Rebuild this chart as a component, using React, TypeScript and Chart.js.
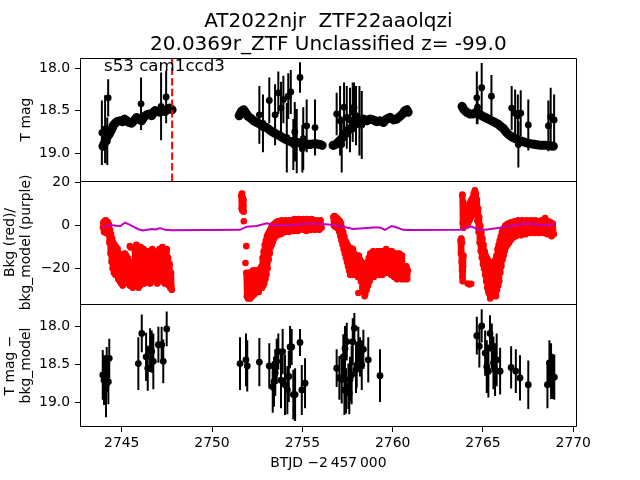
import React, { useEffect, useRef } from 'react';
import { Chart, registerables } from 'chart.js';

Chart.register(...registerables);

// ---------- text ----------
const TITLE_LINES = ['AT2022njr  ZTF22aaolqzi', '20.0369r_ZTF Unclassified z= -99.0'];
const ANNOT_TEXT = 's53 cam1ccd3';
const ANNOT_T = 2744.02;
const ANNOT_M = 18.03;
const X_TITLE = 'BTJD \u22122\u2009457\u2009000';
const Y1_TITLE = 'T mag';
const Y2_TITLE = ['Bkg (red)/', 'bkg_model (purple)'];
const Y3_TITLE = ['T mag \u2212', 'bkg_model'];

// ---------- axes ----------
const X_MIN = 2742.69;
const X_MAX = 2770.19;
const X_TICKS = [2745, 2750, 2755, 2760, 2765, 2770];
const Y1_MIN = 17.88;
const Y1_MAX = 19.33;
const Y1_TICKS = [18.0, 18.5, 19.0];
const Y2_MIN = -36.6;
const Y2_MAX = 20.8;
const Y2_TICKS = [-20, 0, 20];
const Y3_MIN = 17.70;
const Y3_MAX = 19.33;
const Y3_TICKS = [18.0, 18.5, 19.0];

const VLINE_T = 2747.79;

// ---------- panel 1: dense light-curve band (null = gap) ----------
const BAND: ([number, number] | null)[] = [
  [2743.96, 18.92], [2744.05, 18.88], [2744.17, 18.82], [2744.30, 18.78], [2744.45, 18.72],
  [2744.55, 18.67], [2744.63, 18.65], [2744.75, 18.63], [2744.91, 18.62], [2745.05, 18.63],
  [2745.15, 18.60], [2745.28, 18.62], [2745.40, 18.64], [2745.55, 18.65], [2745.68, 18.62],
  [2745.83, 18.58], [2745.95, 18.60], [2746.11, 18.62], [2746.25, 18.57], [2746.38, 18.55],
  [2746.52, 18.54], [2746.66, 18.56], [2746.76, 18.52], [2746.84, 18.50], [2746.98, 18.51],
  [2747.12, 18.52], [2747.26, 18.50], [2747.40, 18.51], [2747.55, 18.48], [2747.67, 18.47],
  [2747.79, 18.49],
  null,
  [2751.50, 18.56], [2751.62, 18.51], [2751.75, 18.49], [2751.88, 18.53], [2752.00, 18.57],
  [2752.15, 18.59], [2752.30, 18.62], [2752.48, 18.64], [2752.65, 18.66], [2752.85, 18.69],
  [2753.03, 18.70], [2753.25, 18.74], [2753.50, 18.77], [2753.77, 18.80], [2754.00, 18.83],
  [2754.25, 18.86], [2754.50, 18.87], [2754.80, 18.88], [2755.10, 18.89], [2755.40, 18.90],
  [2755.70, 18.89], [2755.98, 18.90], [2756.10, 18.91],
  null,
  [2756.70, 18.91], [2756.85, 18.90], [2757.00, 18.87], [2757.18, 18.83], [2757.36, 18.78],
  [2757.55, 18.73], [2757.73, 18.70], [2757.92, 18.66], [2758.10, 18.64], [2758.25, 18.61],
  [2758.40, 18.60], [2758.57, 18.62], [2758.75, 18.60], [2758.93, 18.61], [2759.12, 18.63],
  [2759.30, 18.62], [2759.49, 18.64], [2759.66, 18.60], [2759.86, 18.58], [2760.05, 18.61],
  [2760.23, 18.60], [2760.40, 18.57], [2760.55, 18.54], [2760.68, 18.50], [2760.78, 18.49],
  [2760.86, 18.52],
  null,
  [2763.84, 18.45], [2763.95, 18.49], [2764.10, 18.52], [2764.28, 18.54], [2764.47, 18.54],
  [2764.62, 18.52], [2764.74, 18.53], [2764.93, 18.56], [2765.12, 18.58], [2765.30, 18.60],
  [2765.49, 18.62], [2765.67, 18.64], [2765.85, 18.66], [2766.00, 18.69], [2766.13, 18.71],
  [2766.27, 18.75], [2766.41, 18.78], [2766.60, 18.81], [2766.78, 18.83], [2766.97, 18.85],
  [2767.15, 18.86], [2767.40, 18.88], [2767.61, 18.89], [2767.90, 18.90], [2768.20, 18.91],
  [2768.50, 18.91], [2768.90, 18.92],
];

// ---------- panel 1: points with error bars [t, mag, err] ----------
const P1_POINTS: [number, number, number][] = [
  [2743.90, 18.76, 0.38], [2744.08, 18.72, 0.40], [2744.20, 18.86, 0.28], [2744.25, 18.35, 0.22],
  [2746.07, 18.42, 0.31], [2747.18, 18.45, 0.40], [2747.46, 18.34, 0.31],
  [2752.62, 18.55, 0.34], [2752.82, 18.65, 0.34], [2753.17, 18.38, 0.27], [2753.49, 18.55, 0.36],
  [2753.67, 18.29, 0.25], [2753.82, 18.47, 0.31], [2753.95, 18.37, 0.28], [2754.14, 18.82, 0.41],
  [2754.22, 18.33, 0.27], [2754.36, 18.28, 0.26], [2754.50, 18.90, 0.30], [2754.58, 18.75, 0.35],
  [2754.69, 18.86, 0.38], [2754.87, 18.11, 0.18], [2755.00, 18.95, 0.28], [2755.05, 18.83, 0.37],
  [2755.24, 18.68, 0.31], [2755.70, 18.70, 0.33],
  [2756.90, 18.54, 0.25], [2757.09, 18.62, 0.41], [2757.18, 18.90, 0.33], [2757.31, 18.46, 0.29],
  [2757.46, 18.58, 0.37], [2757.64, 18.61, 0.38], [2757.79, 18.52, 0.35], [2757.86, 18.46, 0.29],
  [2757.97, 18.56, 0.35], [2758.16, 18.62, 0.41], [2758.29, 18.67, 0.40],
  [2764.66, 18.35, 0.31], [2764.70, 18.46, 0.20], [2764.93, 18.23, 0.29], [2765.47, 18.33, 0.25],
  [2766.59, 18.47, 0.26], [2766.78, 18.53, 0.28], [2766.93, 18.56, 0.25], [2766.96, 18.90, 0.27],
  [2767.09, 18.53, 0.27], [2767.51, 18.67, 0.30], [2768.62, 18.68, 0.30], [2768.75, 18.57, 0.34],
  [2768.94, 18.61, 0.30],
];

// ---------- panel 2: background (red) [t, value]; null = break ----------
const BKG_ORBIT1: ([number, number] | null)[] = [
  [2743.96, -1], [2743.99, 1.5], [2744.02, -3], [2744.05, 2], [2744.08, -2.5], [2744.11, 2.5],
  [2744.14, -3.5], [2744.17, 2], [2744.20, -3], [2744.23, 1.5], [2744.26, -4], [2744.29, 0.5],
  [2744.32, -8], [2744.35, -2], [2744.38, -13], [2744.41, -4], [2744.44, -17], [2744.47, -6],
  [2744.50, -20], [2744.53, -8], [2744.57, -22], [2744.61, -9], [2744.65, -23], [2744.69, -10],
  [2744.73, -22], [2744.77, -11], [2744.81, -25], [2744.85, -13], [2744.89, -26], [2744.93, -15],
  [2744.97, -27], [2745.01, -16], [2745.05, -28], [2745.09, -15], [2745.13, -27], [2745.17, -13],
  [2745.21, -26], [2745.25, -14], [2745.29, -25], [2745.33, -15], [2745.37, -27], [2745.41, -17],
  [2745.45, -28], [2745.49, -18], [2745.53, -28], [2745.57, -20], [2745.61, -29], [2745.65, -17],
  [2745.69, -27], [2745.73, -12], [2745.77, -25], [2745.81, -9], [2745.85, -27], [2745.89, -10],
  [2745.93, -29], [2745.97, -12], [2746.01, -28], [2746.05, -10], [2746.09, -26], [2746.13, -12],
  [2746.17, -25], [2746.21, -11], [2746.25, -27], [2746.29, -13], [2746.33, -24], [2746.37, -12],
  [2746.41, -26], [2746.45, -14], [2746.49, -25], [2746.53, -12], [2746.57, -27], [2746.61, -13],
  [2746.65, -24], [2746.69, -11], [2746.73, -25], [2746.77, -12], [2746.81, -26], [2746.85, -14],
  [2746.89, -25], [2746.93, -15], [2746.97, -27], [2747.01, -12], [2747.05, -26], [2747.09, -11],
  [2747.13, -24], [2747.17, -13], [2747.21, -26], [2747.25, -10], [2747.29, -25], [2747.33, -12],
  [2747.37, -27], [2747.41, -14], [2747.45, -26], [2747.49, -11], [2747.53, -25], [2747.57, -15],
  [2747.61, -28], [2747.65, -18], [2747.69, -29], [2747.73, -22], [2747.77, -30],
];

const BKG_ORBIT2: ([number, number] | null)[] = [
  [2751.62, 14], [2751.64, 8], [2751.66, 15], [2751.68, 7], [2751.70, 13], [2751.72, 9],
  [2751.74, 12], [2751.75, 6.5],
  null,
  [2751.90, -22], [2751.93, -33], [2751.96, -23], [2751.99, -34], [2752.02, -22], [2752.05, -33],
  [2752.08, -24], [2752.11, -34], [2752.14, -22], [2752.17, -32], [2752.20, -23], [2752.23, -33],
  [2752.26, -21], [2752.29, -31], [2752.32, -22], [2752.35, -32], [2752.38, -21], [2752.41, -30],
  [2752.44, -22], [2752.47, -31], [2752.50, -21], [2752.53, -30], [2752.56, -22], [2752.59, -31],
  [2752.62, -21], [2752.65, -29], [2752.68, -20], [2752.71, -28], [2752.74, -19], [2752.77, -29],
  [2752.80, -15], [2752.83, -28], [2752.86, -12], [2752.89, -27], [2752.92, -9], [2752.95, -25],
  [2752.98, -7], [2753.01, -23], [2753.04, -5], [2753.07, -20], [2753.10, -4], [2753.13, -16],
  [2753.16, -3], [2753.19, -13], [2753.22, -2], [2753.25, -10], [2753.28, -1], [2753.31, -9],
  [2753.34, 0], [2753.37, -7.5], [2753.40, 0.5], [2753.44, -6], [2753.48, 1], [2753.52, -5],
  [2753.56, 1.5], [2753.60, -4.5], [2753.65, 2], [2753.70, -4], [2753.75, 2], [2753.80, -4],
  [2753.85, 2.5], [2753.90, -3.5], [2753.96, 2], [2754.02, -3], [2754.08, 2.5], [2754.14, -2.5],
  [2754.20, 2], [2754.26, -3], [2754.32, 2.5], [2754.38, -2], [2754.44, 2], [2754.50, -2.5],
  [2754.56, 3], [2754.62, -2], [2754.68, 2], [2754.74, -2.5], [2754.80, 3], [2754.86, -2],
  [2754.92, 2.5], [2754.98, -1.5], [2755.04, 3], [2755.10, -2], [2755.16, 2], [2755.22, -2.5],
  [2755.28, 3], [2755.34, -1.5], [2755.40, 2.5], [2755.46, -2], [2755.52, 3], [2755.58, -1.5],
  [2755.64, 2], [2755.70, -2], [2755.76, 2.5], [2755.82, -1.5], [2755.88, 2], [2755.94, -2],
  [2756.00, 2.5], [2756.06, -1],
  null,
  [2756.72, 4], [2756.75, 0], [2756.78, 4.5], [2756.81, -0.5], [2756.84, 4], [2756.87, 0],
  [2756.90, 3.5], [2756.93, -1], [2756.96, 3], [2756.99, -1.5], [2757.02, 2.5], [2757.05, -3],
  [2757.08, 2], [2757.11, -5], [2757.14, 1], [2757.17, -7], [2757.20, -1], [2757.23, -9],
  [2757.26, -3], [2757.29, -11], [2757.32, -5], [2757.35, -13], [2757.38, -7], [2757.41, -15],
  [2757.44, -8], [2757.47, -17], [2757.50, -9], [2757.53, -19], [2757.56, -10], [2757.59, -21],
  [2757.62, -11], [2757.65, -23], [2757.68, -10.5], [2757.71, -22], [2757.74, -12], [2757.77, -23],
  [2757.80, -11], [2757.84, -22], [2757.88, -13], [2757.92, -23], [2757.96, -14], [2758.00, -22],
  [2758.04, -15], [2758.08, -24], [2758.12, -14], [2758.16, -23], [2758.20, -16], [2758.24, -26],
  [2758.28, -17], [2758.32, -29], [2758.36, -18], [2758.40, -31], [2758.44, -19], [2758.48, -32],
  [2758.52, -18], [2758.56, -30], [2758.60, -17], [2758.64, -28], [2758.68, -15], [2758.72, -26],
  [2758.76, -13], [2758.80, -23], [2758.84, -14], [2758.88, -22], [2758.92, -12], [2758.96, -24],
  [2759.00, -13], [2759.04, -22], [2759.08, -14], [2759.12, -23], [2759.16, -12], [2759.20, -21],
  [2759.24, -13], [2759.28, -23], [2759.32, -12], [2759.36, -22], [2759.40, -14], [2759.44, -23],
  [2759.48, -12], [2759.52, -21], [2759.56, -13], [2759.60, -22], [2759.64, -11], [2759.68, -20],
  [2759.72, -13], [2759.76, -22], [2759.80, -12], [2759.84, -21], [2759.88, -14], [2759.92, -23],
  [2759.96, -12], [2760.00, -22], [2760.04, -13], [2760.08, -24], [2760.12, -14], [2760.16, -23],
  [2760.20, -13], [2760.24, -25], [2760.28, -15], [2760.32, -24], [2760.36, -13], [2760.40, -23],
  [2760.44, -16], [2760.48, -25], [2760.52, -14], [2760.56, -24], [2760.60, -19], [2760.64, -25],
  [2760.68, -20], [2760.72, -24], [2760.76, -19], [2760.80, -25], [2760.84, -21],
];

const BKG_ORBIT3: ([number, number] | null)[] = [
  [2763.76, -7], [2763.78, -13], [2763.80, -6], [2763.82, -17], [2763.84, -21], [2763.86, -24],
  [2763.88, -26], [2763.90, -19], [2763.92, -14],
  null,
  [2763.86, 14], [2763.88, 1], [2763.90, 11], [2763.92, -1], [2763.95, 8], [2763.98, 0],
  [2764.01, 6], [2764.04, 1], [2764.07, 7], [2764.10, 0], [2764.13, 8], [2764.16, 1],
  [2764.19, 9], [2764.22, 2], [2764.25, 10], [2764.28, 3], [2764.31, 11], [2764.34, 4],
  [2764.37, 12], [2764.40, 5], [2764.43, 13], [2764.46, 6], [2764.49, 15], [2764.52, 8],
  [2764.55, 16.5], [2764.58, 10], [2764.61, 15], [2764.64, 6], [2764.67, 12], [2764.70, 2],
  [2764.73, 8], [2764.76, -3], [2764.79, 4], [2764.82, -8], [2764.85, 0], [2764.88, -12],
  [2764.91, -3], [2764.94, -15], [2764.97, -6], [2765.00, -18], [2765.03, -9], [2765.06, -20],
  [2765.09, -12], [2765.12, -23], [2765.15, -14], [2765.18, -26], [2765.21, -15], [2765.24, -29],
  [2765.27, -16], [2765.30, -31], [2765.33, -17], [2765.36, -32], [2765.39, -18], [2765.42, -33],
  [2765.45, -17], [2765.48, -32], [2765.51, -18], [2765.54, -33], [2765.57, -19], [2765.60, -32],
  [2765.63, -17], [2765.66, -31], [2765.69, -16], [2765.72, -33], [2765.75, -14], [2765.78, -30],
  [2765.81, -11], [2765.84, -28], [2765.87, -9], [2765.90, -26], [2765.93, -7], [2765.96, -22],
  [2765.99, -5], [2766.02, -19], [2766.05, -3], [2766.08, -16], [2766.11, -2], [2766.14, -14],
  [2766.17, -1], [2766.20, -12], [2766.24, 0], [2766.28, -10], [2766.32, 0.5], [2766.36, -9],
  [2766.40, 1], [2766.44, -8], [2766.48, 1], [2766.52, -7], [2766.56, 1.5], [2766.60, -6],
  [2766.65, 1.5], [2766.70, -5.5], [2766.75, 2], [2766.80, -5], [2766.85, 2], [2766.90, -4.5],
  [2766.95, 2.5], [2767.00, -4], [2767.06, 2], [2767.12, -4.5], [2767.18, 2.5], [2767.24, -3.5],
  [2767.30, 2], [2767.36, -4], [2767.42, 2.5], [2767.48, -3], [2767.54, 2], [2767.60, -3.5],
  [2767.66, 2.5], [2767.72, -3], [2767.78, 2], [2767.84, -3.5], [2767.90, 2.5], [2767.96, -3],
  [2768.02, 2], [2768.08, -3.5], [2768.14, 2], [2768.20, -3], [2768.26, 2.5], [2768.32, -3.5],
  [2768.38, 2], [2768.44, -3], [2768.50, 2.5], [2768.56, -4], [2768.62, 2], [2768.68, -3.5],
  [2768.74, 1.5], [2768.80, -5], [2768.86, 1], [2768.92, -4],
];

const BKG_SINGLE: [number, number][] = [
  [2745.45, -9.6], [2745.50, -10.2], [2751.76, 2.0], [2751.90, -9.6], [2751.85, -17.5],
  [2758.10, -31.5], [2758.45, -33], [2764.15, -27], [2764.25, -27.5], [2764.35, -27.2],
  [2763.80, -6.5], [2763.84, -8], [2768.44, 3.5], [2763.86, 14.5], [2765.40, -34],
];

// ---------- panel 2: background model (purple) ----------
const BKG_MODEL: [number, number][] = [
  [2743.96, -0.5], [2744.35, 0.3], [2744.91, -0.3], [2745.18, 1.4], [2745.46, 0.3], [2745.92, -1.7],
  [2746.18, -2.3], [2746.66, -1.6], [2746.90, -1.8], [2747.12, -1.2], [2747.40, -2.0], [2747.78, -2.2],
  [2751.55, -2.0], [2751.92, -0.5], [2752.47, -0.2], [2753.03, 1.1], [2753.39, 0.3], [2753.77, 0.0],
  [2754.50, 0.3], [2755.24, 0.8], [2755.98, 0.8], [2756.72, 0.3], [2757.46, -0.9], [2757.82, -1.6],
  [2758.38, -1.2], [2758.93, -0.9], [2759.30, -0.9], [2759.58, -2.0], [2759.95, -0.2], [2760.23, -0.9],
  [2760.59, -2.0], [2760.87, -2.1],
  [2763.73, -1.9], [2763.92, -1.3], [2764.38, -0.5], [2764.66, -1.6], [2765.12, -2.0], [2765.76, -1.2],
  [2766.32, -0.5], [2767.05, 0.6], [2767.60, 0.8], [2768.34, 0.3], [2768.99, 0.6],
];

// ---------- panel 3: T mag - bkg_model [t, mag, err] ----------
const P3_POINTS: [number, number, number][] = [
  [2743.95, 18.64, 0.33], [2744.02, 18.71, 0.33], [2744.13, 18.79, 0.41], [2744.17, 18.57, 0.30],
  [2744.26, 18.73, 0.30], [2744.31, 18.42, 0.26], [2745.92, 18.49, 0.35], [2746.11, 18.09, 0.25],
  [2746.35, 18.40, 0.32], [2746.44, 18.55, 0.30], [2746.57, 18.31, 0.29], [2746.66, 18.33, 0.28],
  [2746.75, 18.46, 0.37], [2747.03, 18.24, 0.24], [2747.21, 18.24, 0.24], [2747.30, 18.46, 0.29],
  [2747.49, 18.03, 0.23],
  [2751.55, 18.49, 0.35], [2751.88, 18.44, 0.35], [2751.95, 18.52, 0.34], [2752.62, 18.47, 0.32],
  [2753.17, 18.52, 0.30], [2753.36, 18.80, 0.34], [2753.43, 18.73, 0.33], [2753.50, 18.61, 0.31],
  [2753.58, 18.46, 0.30], [2753.67, 18.33, 0.24], [2753.82, 18.71, 0.37], [2753.91, 18.33, 0.30],
  [2754.04, 18.77, 0.40], [2754.17, 18.84, 0.32], [2754.25, 18.66, 0.34], [2754.32, 18.27, 0.28],
  [2754.41, 18.27, 0.24], [2754.50, 18.90, 0.33], [2754.60, 18.90, 0.35], [2754.87, 18.21, 0.18],
  [2754.97, 18.84, 0.33], [2755.15, 18.75, 0.33],
  [2756.90, 18.55, 0.25], [2757.05, 18.68, 0.29], [2757.18, 18.70, 0.32], [2757.27, 18.40, 0.30],
  [2757.33, 18.84, 0.33], [2757.36, 18.29, 0.30], [2757.42, 18.85, 0.30], [2757.46, 18.20, 0.25],
  [2757.55, 18.79, 0.30], [2757.60, 18.88, 0.28], [2757.64, 18.70, 0.30], [2757.73, 18.64, 0.39],
  [2757.79, 18.20, 0.31], [2757.88, 18.02, 0.20], [2757.97, 18.57, 0.31], [2758.01, 18.51, 0.30],
  [2758.10, 18.24, 0.24], [2758.19, 18.40, 0.26], [2758.29, 18.51, 0.33], [2758.38, 18.30, 0.26],
  [2758.65, 18.44, 0.30], [2759.30, 18.65, 0.35],
  [2764.66, 18.12, 0.25], [2764.80, 18.26, 0.28], [2764.93, 17.99, 0.22], [2765.12, 18.35, 0.30],
  [2765.21, 18.53, 0.35], [2765.30, 18.59, 0.35], [2765.39, 18.09, 0.24], [2765.49, 18.26, 0.30],
  [2765.58, 18.48, 0.35], [2765.67, 18.57, 0.35], [2765.76, 18.44, 0.35], [2765.95, 18.59, 0.31],
  [2766.56, 18.54, 0.28], [2766.82, 18.59, 0.29], [2767.05, 18.68, 0.30], [2767.51, 18.77, 0.32],
  [2768.57, 18.77, 0.31], [2768.68, 18.48, 0.30], [2768.77, 18.59, 0.37], [2768.84, 18.66, 0.30],
  [2768.95, 18.67, 0.30],
];

// ---------- helpers ----------
const FONT = "'DejaVu Sans', sans-serif";
const toSeries = (rows: ([number, number] | null)[]) => {
  const out: { x: number; y: number | null }[] = [];
  let lastX = X_MIN;
  rows.forEach((r) => {
    if (r === null) out.push({ x: lastX, y: null });
    else { out.push({ x: r[0], y: r[1] }); lastX = r[0]; }
  });
  return out;
};
const toPoints = (rows: [number, number, number][]) => rows.map((r) => ({ x: r[0], y: r[1] }));
const toErrBars = (rows: [number, number, number][]) =>
  rows.flatMap((r) => [{ x: r[0], y: r[1] - r[2] }, { x: r[0], y: r[1] + r[2] }, { x: r[0], y: null }]);
const fixTicks = (vals: number[]) => (s: any) => { s.ticks = vals.map((v) => ({ value: v })); };
const minusFmt = (v: number) => (v < 0 ? '\u2212' + String(Math.abs(v)) : String(v));

const framePlugin = {
  id: 'panelFrames',
  afterDatasetsDraw(chart: any) {
    const { ctx, chartArea } = chart;
    const ids = ['y1', 'y2', 'y3'];
    const l = Math.round(chartArea.left) + 0.5;
    const r = Math.round(chartArea.right) - 0.5;
    const top = Math.round(chart.scales.y1.top) + 0.5;
    const bottom = Math.round(chart.scales.y3.bottom) - 0.5;
    ctx.save();
    ctx.strokeStyle = '#000';
    ctx.lineWidth = 1;
    ctx.beginPath();
    ids.forEach((id, i) => {
      const y = i === 0 ? top : Math.round(chart.scales[id].top) + 0.5;
      ctx.moveTo(l, y);
      ctx.lineTo(r, y);
    });
    ctx.moveTo(l, bottom); ctx.lineTo(r, bottom);
    ctx.moveTo(l, top); ctx.lineTo(l, bottom);
    ctx.moveTo(r, top); ctx.lineTo(r, bottom);
    ctx.stroke();
    ctx.restore();
  },
};

const annotPlugin = {
  id: 'annot',
  afterDatasetsDraw(chart: any) {
    const { ctx } = chart;
    const x = chart.scales.x.getPixelForValue(ANNOT_T);
    const y = chart.scales.y1.getPixelForValue(ANNOT_M);
    ctx.save();
    ctx.font = `16.67px ${FONT}`;
    ctx.fillStyle = '#000';
    ctx.textAlign = 'left';
    ctx.textBaseline = 'alphabetic';
    ctx.fillText(ANNOT_TEXT, x, y);
    ctx.restore();
  },
};

const tickFont = { family: FONT, size: 13.9 };
const yAxis = (min: number, max: number, ticks: number[], reverse: boolean, weight: number,
  title: string | string[], padTop: number, fmt: (v: number) => string) => ({
  type: 'linear' as const,
  position: 'left' as const,
  stack: 'panels',
  stackWeight: 1,
  weight,
  reverse,
  min,
  max,
  afterBuildTicks: fixTicks(ticks),
  afterFit: (s: any) => { s.width = 80; },
  ticks: { font: tickFont, color: '#000', padding: 5, callback: (v: any) => fmt(Number(v)) },
  grid: { display: true, drawOnChartArea: false, drawTicks: true, tickLength: 5, color: '#000', lineWidth: 1 },
  border: { display: false },
  title: { display: true, text: title, color: '#000', font: { family: FONT, size: 13.9, lineHeight: 1.2 },
    padding: { top: padTop, bottom: 0 } },
});

export default function App() {
  const ref = useRef<HTMLCanvasElement | null>(null);
  useEffect(() => {
    if (!ref.current) return;
    const chart = new Chart(ref.current, {
      type: 'scatter',
      data: {
        datasets: [
          {
            label: 'vline', yAxisID: 'y1', xAxisID: 'x', order: 0,
            data: [{ x: VLINE_T, y: Y1_MAX }, { x: VLINE_T, y: Y1_MIN }],
            showLine: true, borderColor: '#ff0000', borderWidth: 2, borderDash: [7.4, 3.2], pointRadius: 0,
          },
          {
            label: 'bkg_model', yAxisID: 'y2', xAxisID: 'x', order: 1,
            data: toSeries(BKG_MODEL), showLine: true, borderColor: '#bf00bf', borderWidth: 2, pointRadius: 0,
          },
          {
            label: 'bkg', yAxisID: 'y2', xAxisID: 'x', order: 2,
            data: [...toSeries(BKG_ORBIT1), { x: 2748, y: null }, ...toSeries(BKG_ORBIT2), { x: 2761, y: null }, ...toSeries(BKG_ORBIT3)],
            showLine: true, borderColor: '#ff0000', borderWidth: 6, borderJoinStyle: 'round', borderCapStyle: 'round',
            borderDash: [100000, 0],
            pointRadius: 3.3, pointBackgroundColor: '#ff0000', pointBorderWidth: 0,
          },
          {
            label: 'bkg single', yAxisID: 'y2', xAxisID: 'x', order: 2,
            data: BKG_SINGLE.map((r) => ({ x: r[0], y: r[1] })), showLine: false,
            pointRadius: 3.3, pointBackgroundColor: '#ff0000', pointBorderWidth: 0,
          },
          {
            label: 'p1 pts', yAxisID: 'y1', xAxisID: 'x', order: 3,
            data: toPoints(P1_POINTS), showLine: false, pointRadius: 3.4, pointBackgroundColor: '#000', pointBorderWidth: 0,
          },
          {
            label: 'p1 err', yAxisID: 'y1', xAxisID: 'x', order: 4,
            data: toErrBars(P1_POINTS), showLine: true, borderColor: '#000', borderWidth: 2, pointRadius: 0,
          },
          {
            label: 'p1 band', yAxisID: 'y1', xAxisID: 'x', order: 5,
            data: toSeries(BAND), showLine: true, borderColor: '#000', borderWidth: 9,
            borderCapStyle: 'round', borderJoinStyle: 'round', borderDash: [100000, 0],
            pointRadius: 0, pointBorderWidth: 0,
          },
          {
            label: 'p3 pts', yAxisID: 'y3', xAxisID: 'x', order: 3,
            data: toPoints(P3_POINTS), showLine: false, pointRadius: 3.4, pointBackgroundColor: '#000', pointBorderWidth: 0,
          },
          {
            label: 'p3 err', yAxisID: 'y3', xAxisID: 'x', order: 4,
            data: toErrBars(P3_POINTS), showLine: true, borderColor: '#000', borderWidth: 2, pointRadius: 0,
          },
        ] as any,
      },
      options: {
        responsive: false,
        animation: false,
        devicePixelRatio: 1,
        events: [],
        layout: { padding: { left: 0, right: 63.3, top: 0, bottom: 0 } },
        plugins: {
          legend: { display: false },
          tooltip: { enabled: false },
          title: {
            display: true, text: TITLE_LINES, color: '#000', fullSize: false,
            font: { family: FONT, size: 20, weight: 'normal', lineHeight: 1.15 },
            padding: { top: 10, bottom: 2 },
          },
        },
        scales: {
          x: {
            type: 'linear', position: 'bottom', min: X_MIN, max: X_MAX,
            afterBuildTicks: fixTicks(X_TICKS),
            afterFit: (s: any) => { s.height = 53; },
            ticks: { font: tickFont, color: '#000', padding: 3, maxRotation: 0, autoSkip: false, callback: (v: any) => String(v) },
            grid: { display: true, drawOnChartArea: false, drawTicks: true, tickLength: 5, color: '#000', lineWidth: 1 },
            border: { display: false },
            title: { display: true, text: X_TITLE, color: '#000', font: { family: FONT, size: 13.9, lineHeight: 1.2 }, padding: { top: 0, bottom: 8.2 } },
          },
          y1: yAxis(Y1_MIN, Y1_MAX, Y1_TICKS, true, 3, Y1_TITLE, 18.2, (v) => v.toFixed(1)),
          y2: yAxis(Y2_MIN, Y2_MAX, Y2_TICKS, false, 2, Y2_TITLE, 1.7, minusFmt),
          y3: yAxis(Y3_MIN, Y3_MAX, Y3_TICKS, true, 1, Y3_TITLE, 1.7, (v) => v.toFixed(1)),
        } as any,
      },
      plugins: [framePlugin, annotPlugin],
    });
    return () => chart.destroy();
  }, []);
  return (
    <div style={{ position: 'fixed', left: 0, top: 0, width: 640, height: 480, background: '#fff' }}>
      <canvas ref={ref} width={640} height={480} style={{ display: 'block', width: 640, height: 480 }} />
    </div>
  );
}
